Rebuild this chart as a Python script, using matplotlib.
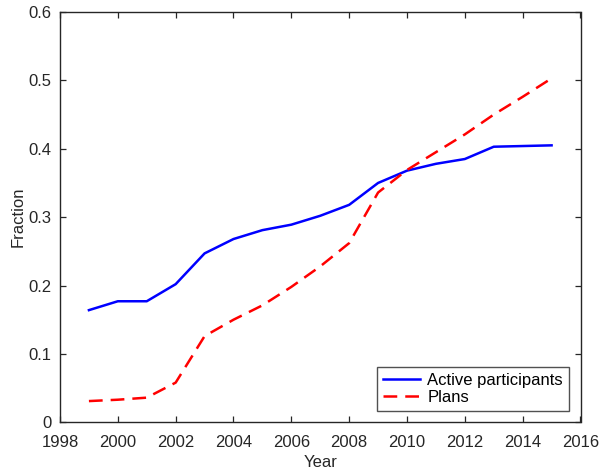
import matplotlib
matplotlib.use("Agg")
import matplotlib.pyplot as plt

plt.rcParams['font.family'] = ['Liberation Sans', 'DejaVu Sans']

years = list(range(1999, 2016))
active_participants = [0.164, 0.177, 0.177, 0.202, 0.247, 0.268, 0.281, 0.289,
                       0.302, 0.318, 0.350, 0.368, 0.378, 0.385, 0.403, 0.404, 0.405]
plans = [0.031, 0.033, 0.036, 0.058, 0.126, 0.150, 0.171, 0.198,
         0.228, 0.262, 0.336, 0.369, 0.395, 0.421, 0.450, 0.476, 0.503]

x_ticks = list(range(1998, 2017, 2))
y_ticks = [0, 0.1, 0.2, 0.3, 0.4, 0.5, 0.6]
y_labels = ['0', '0.1', '0.2', '0.3', '0.4', '0.5', '0.6']

fig = plt.figure(figsize=(6, 4.75), dpi=100)
ax = fig.add_axes([0.1, 0.111, 0.8675, 0.8637])

ax.plot(years, active_participants, color='#0000ff', lw=1.8, label='Active participants')
ax.plot(years, plans, color='#ff0000', lw=1.8, ls=(0, (5.5, 3.2)), label='Plans')

ax.set_xlim(1998, 2016)
ax.set_ylim(0, 0.6)
ax.set_xticks(x_ticks)
ax.set_yticks(y_ticks)
ax.set_yticklabels(y_labels)
ax.tick_params(direction='in', top=True, right=True, length=4.5, width=0.9,
               labelsize=12, colors='#262626')
ax.tick_params(axis='x', pad=9)
ax.tick_params(axis='y', pad=6)
for s in ax.spines.values():
    s.set_linewidth(1.0)
    s.set_color('#262626')

ax.set_xlabel('Year', fontsize=12, color='#262626', labelpad=4)
ax.set_ylabel('Fraction', fontsize=12, color='#262626', labelpad=2)

leg = ax.legend(loc='lower right', fontsize=12, frameon=True, fancybox=False,
                edgecolor='#262626', handlelength=2.2, borderpad=0.35,
                labelspacing=0.15, handletextpad=0.45, borderaxespad=0.0,
                bbox_to_anchor=(0.9773, 0.0275))
leg.get_frame().set_linewidth(1.0)

fig.savefig('out.png', dpi=100)
